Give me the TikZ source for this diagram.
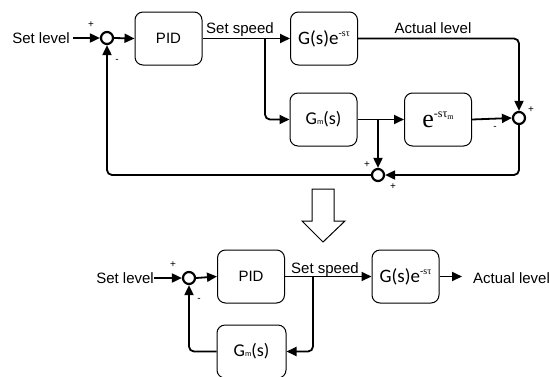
\documentclass[tikz,border=0pt]{standalone}
\usepackage{fontspec}
\setmainfont{Liberation Sans}
\newfontfamily\carl{Carlito}
\newfontfamily\tms{Liberation Serif}
\usetikzlibrary{arrows.meta}
\tikzset{
  blk/.style={draw, line width=1pt, rounded corners=8pt, minimum width=67pt, minimum height=53pt, inner sep=0pt},
  sumc/.style={circle, draw, line width=2.2pt, minimum size=12pt, inner sep=0pt},
  conn/.style={line width=1.8pt, rounded corners=5pt, -{Triangle[length=10pt,width=9pt]}},
  wire/.style={line width=1.8pt, rounded corners=5pt},
  lbl/.style={font=\fontsize{15}{17}\selectfont, inner sep=0pt},
  sgn/.style={font=\fontsize{10}{10}\selectfont, inner sep=0pt},
  hollow/.style={draw, line width=1pt, fill=white}
}
% plant and model block contents
\newcommand{\gdelay}{{\carl\fontsize{19}{19}\selectfont G(s)e}\raisebox{8pt}{\tms\fontsize{10}{10}\selectfont -s\texttau}}
\newcommand{\gmod}{{\carl\fontsize{18}{18}\selectfont G{\fontsize{8}{8}\selectfont m}(s)}}
\newcommand{\edelay}{{\tms\fontsize{26}{26}\selectfont e}\raisebox{10pt}{\tms\fontsize{12}{12}\selectfont -s\texttau\raisebox{-2.5pt}{\fontsize{8}{8}\selectfont m}}}
\providecommand{\texttau}{τ}
\begin{document}
\begin{tikzpicture}[x=1pt,y=-1pt]
\useasboundingbox (0,0) rectangle (549,376);

% ---------- Smith predictor loop ----------
\node[lbl, anchor=base east] (sl1) at (70,43) {Set level};
\node[sumc] (s1) at (107,38) {};
\node[blk] (pid1) at (168.5,38.5) {\fontsize{15}{17}\selectfont PID};
\node[blk] (g1) at (324,38.5) {\gdelay};
\node[blk] (gm1) at (323.5,119.5) {\gmod};
\node[blk] (e1) at (438,119.5) {\edelay};
\node[sumc] (s2) at (519,118) {};
\node[sumc] (s3) at (378,175) {};
\coordinate (b1) at (265,38.5);
\coordinate (b2) at (378,119.5);

\draw[conn] (sl1.east |- s1) ++(3pt,0) coordinate (sl1a) -- (s1.west);
\draw[conn] (s1.east) -- (pid1.west);
\draw[conn] (pid1.east) -- (g1.west);
\draw[conn] (b1) |- (gm1.west);
\draw[conn] (g1.east) -| (s2.north);
\draw[conn] (gm1.east) -- (e1.west);
\draw[conn] (b2) -- (s3.north);
\draw[conn] (e1.east) -- (s2.west);
\draw[conn] (s2.south) |- (s3.east);
\draw[conn] (s3.west) -| (s1.south);

\node[lbl, anchor=base] (ss1) at (240,33) {Set speed};
\node[lbl, anchor=base] (al1) at (433,33) {Actual level};

\node[sgn] (p1) at (91,25) {+};
\node[sgn] (m1) at (117,61) {-};
\node[sgn] (p2) at (531,110) {+};
\node[sgn] (m2) at (495,128) {-};
\node[sgn] (p3) at (367,165) {+};
\node[sgn] (p4) at (393,187) {+};

% ---------- transformation arrow ----------
\draw[hollow] (312,189) -- (334,189) -- (334,221) -- (345,221) -- (323,242)
  -- (302,221) -- (312,221) -- cycle;

% ---------- equivalent loop ----------
\node[lbl, anchor=base east] (sl2) at (154,283) {Set level};
\node[sumc] (s4) at (189,278) {};
\node[blk] (pid2) at (251,276.5) {\fontsize{15}{17}\selectfont PID};
\node[blk] (g2) at (405.5,276.5) {\gdelay};
\node[blk, minimum width=69pt] (gm2) at (251.5,351.5) {\gmod};
\node[lbl, anchor=base west] (al2) at (473,283) {Actual level};
\coordinate (b3) at (313,276.5);

\draw[conn] (sl2.east |- s4) -- (s4.west);
\draw[conn] (s4.east) -- (pid2.west);
\draw[conn] (pid2.east) -- (g2.west);
\draw[conn] (g2.east) -- ([xshift=-11pt]al2.west |- g2.east);
\draw[conn] (b3) |- (gm2.east);
\draw[conn] (gm2.west) -| (s4.south);

\node[lbl, anchor=base] (ss2) at (325,273) {Set speed};
\node[sgn] (p5) at (173,265) {+};
\node[sgn] (m5) at (199,300) {-};
\end{tikzpicture}
\end{document}
